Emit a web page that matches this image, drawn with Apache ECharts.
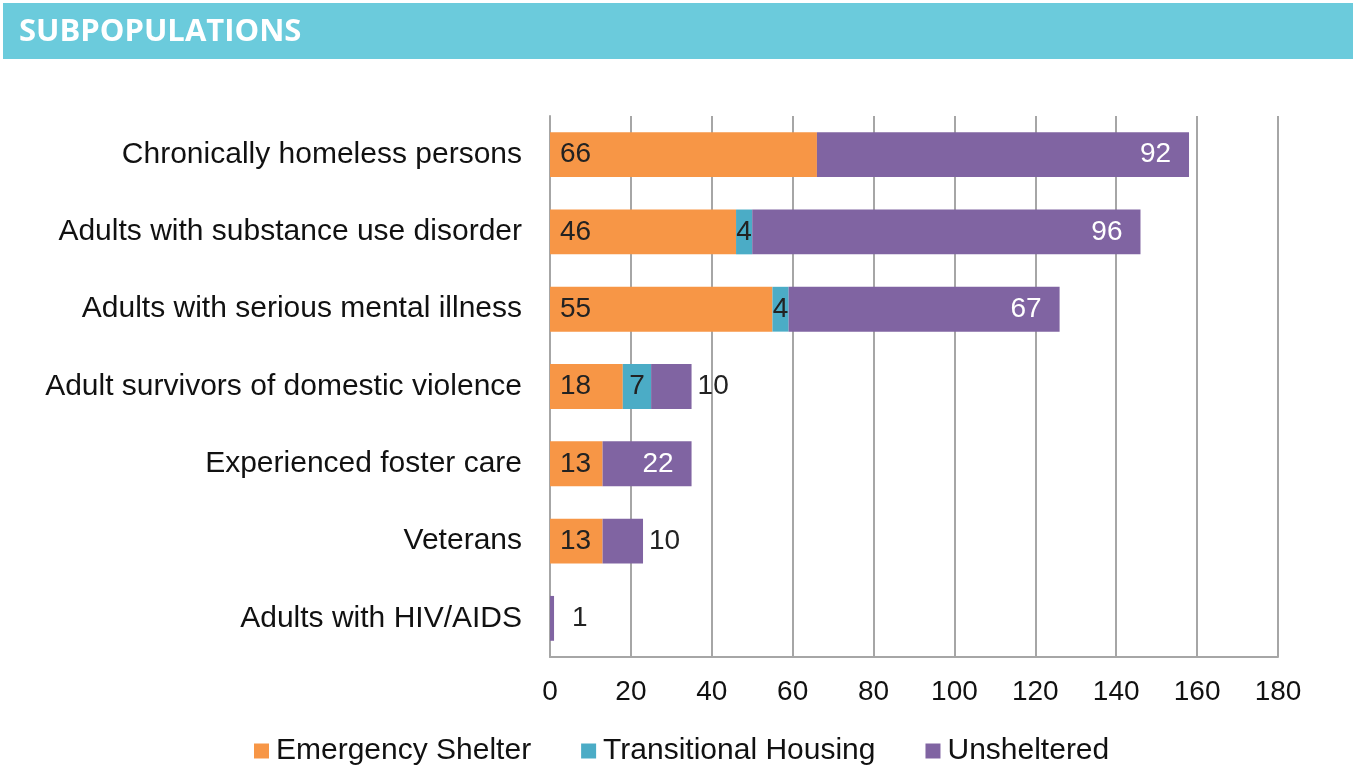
<!DOCTYPE html>
<html>
<head>
<meta charset="utf-8">
<script src="https://cdn.jsdelivr.net/npm/echarts@6/dist/echarts.min.js"></script>
<style>
  html, body { margin: 0; padding: 0; background: #fff; }
  #main { width: 1353px; height: 765px; }
</style>
</head>
<body>
<div id="main"></div>
<script>
// data
var categories = [
  'Chronically homeless persons',
  'Adults with substance use disorder',
  'Adults with serious mental illness',
  'Adult survivors of domestic violence',
  'Experienced foster care',
  'Veterans',
  'Adults with HIV/AIDS'
]
var emergencyShelter = [66, 46, 55, 18, 13, 13, 0]
var transitionalHousing = [0, 4, 4, 7, 0, 0, 0]
var unsheltered = [92, 96, 67, 10, 22, 10, 1]
var xTicks = [0, 20, 40, 60, 80, 100, 120, 140, 160, 180]

var FONT = '"Liberation Sans", Arial, sans-serif'
var fs = 30     // category / legend text
var barFs = 28  // numbers on the bars

// small bars get their number outside the bar
function unshelteredData() {
  return unsheltered.map(function (v) {
    if (v <= 10) {
      return {
        value: v,
        label: { position: 'right', color: '#222', distance: v < 5 ? 18 : 6 }
      }
    }
    return v
  })
}

function hideZero(p) { return p.value ? p.value : '' }

var myChart = echarts.init(document.getElementById('main'))
myChart.setOption({
  animation: false,
  textStyle: { fontFamily: FONT },
  graphic: [
    { type: 'rect', shape: { x: 3, y: 3, width: 1350, height: 56 }, style: { fill: '#6bcbdc' } },
    { type: 'text', x: 19, y: 32, style: {
      text: 'SUBPOPULATIONS', fill: '#fff', fontFamily: '"Open Sans"', fontWeight: 'bold',
      fontSize: 31, verticalAlign: 'middle'
    } }
  ],
  legend: {
    left: 249,
    top: 731,
    itemWidth: 15,
    itemHeight: 15,
    itemGap: 50,
    icon: 'rect',
    textStyle: { fontSize: fs, color: '#111', fontFamily: FONT, padding: [0, 0, 0, 2] },
    data: ['Emergency Shelter', 'Transitional Housing', 'Unsheltered']
  },
  grid: { left: 550, right: 75, top: 116, bottom: 108 },
  xAxis: {
    type: 'value',
    min: 0,
    max: 180,
    interval: 20,
    axisLine: { show: true, lineStyle: { color: '#a6a6a6', width: 2 } },
    axisTick: { show: false },
    splitLine: { lineStyle: { color: '#a6a6a6', width: 2 } },
    axisLabel: {
      fontSize: 28, color: '#111', margin: 21,
      formatter: function (v) { return xTicks.indexOf(v) >= 0 ? String(v) : '' }
    }
  },
  yAxis: {
    type: 'category',
    inverse: true,
    data: categories,
    axisLine: { show: true, lineStyle: { color: '#a6a6a6', width: 2 } },
    axisTick: { show: false },
    axisLabel: { fontSize: fs, color: '#111', margin: 28 }
  },
  series: [
    {
      name: 'Emergency Shelter', type: 'bar', stack: 'total', barWidth: '58%',
      itemStyle: { color: '#f79646' },
      label: { show: true, position: 'insideLeft', distance: 10, color: '#222', fontSize: barFs, formatter: hideZero },
      data: emergencyShelter
    },
    {
      name: 'Transitional Housing', type: 'bar', stack: 'total',
      itemStyle: { color: '#4bacc6' },
      label: { show: true, position: 'inside', color: '#222', fontSize: barFs, formatter: hideZero },
      data: transitionalHousing
    },
    {
      name: 'Unsheltered', type: 'bar', stack: 'total',
      itemStyle: { color: '#8064a2' },
      label: { show: true, position: 'insideRight', distance: 18, color: '#fff', fontSize: barFs, formatter: hideZero },
      data: unshelteredData()
    }
  ]
})
</script>
</body>
</html>
